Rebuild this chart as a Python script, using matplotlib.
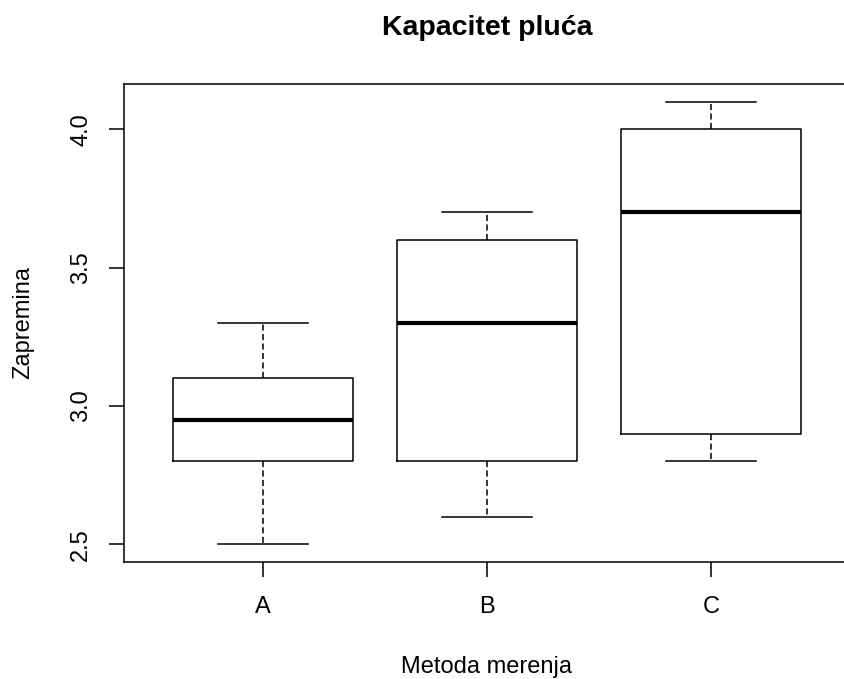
import matplotlib.pyplot as plt

# Five-number summaries
groups = ['A', 'B', 'C']
whislo = [2.5, 2.6, 2.8]
q1 = [2.8, 2.8, 2.9]
med = [2.95, 3.3, 3.7]
q3 = [3.1, 3.6, 4.0]
whishi = [3.3, 3.7, 4.1]
yticks = [2.5, 3.0, 3.5, 4.0]

plt.rcParams['font.family'] = ['Liberation Sans', 'DejaVu Sans']

fig = plt.figure(figsize=(8.45, 6.79), dpi=100)
# plot region runs past the right edge, as in the original
ax = fig.add_axes([124 / 845, 1 - 562 / 679, 726 / 845, 478 / 679])

stats = []
for i, g in enumerate(groups):
    stats.append(dict(label=g, whislo=whislo[i], q1=q1[i], med=med[i],
                      q3=q3[i], whishi=whishi[i], fliers=[]))

ax.bxp(stats, positions=[1, 2, 3], widths=0.8, capwidths=0.4,
       showfliers=False,
       boxprops=dict(color='black', linewidth=1.1),
       medianprops=dict(color='black', linewidth=3.0, solid_capstyle='butt'),
       whiskerprops=dict(color='black', linewidth=1.1, linestyle=(0, (4, 2.2))),
       capprops=dict(color='black', linewidth=1.1))

ax.set_xlim(0.38, 3.62)
ax.set_ylim(2.436, 4.164)
ax.set_yticks(yticks)
ax.set_yticklabels([f'{v:.1f}' for v in yticks], rotation=90, va='center')
ax.tick_params(axis='both', length=10.8, width=1.1, labelsize=17)
ax.tick_params(axis='x', pad=14)
ax.tick_params(axis='y', pad=12)
for s in ax.spines.values():
    s.set_linewidth(1.1)

ax.set_title('Kapacitet pluća', fontsize=20.5, fontweight='bold', pad=35)
ax.set_xlabel('Metoda merenja', fontsize=17, labelpad=27)
ax.set_ylabel('Zapremina', fontsize=17, labelpad=26)

plt.savefig('out.png', dpi=100)
